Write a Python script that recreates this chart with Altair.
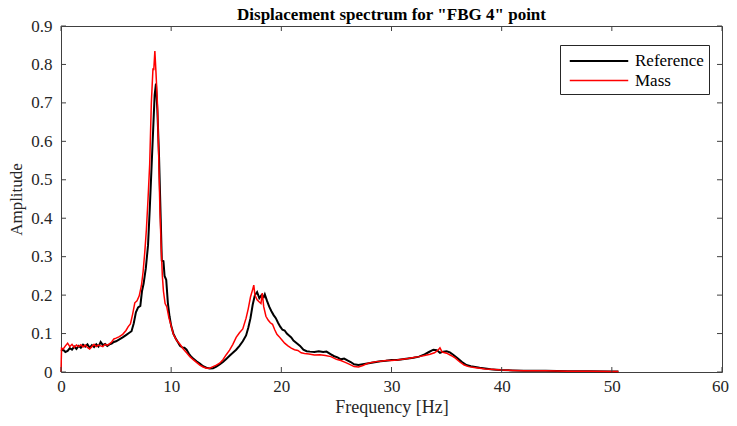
import altair as alt
import pandas as pd

# ---- data ----
ref_freq = [0.0, 0.2, 0.4, 0.6, 0.8, 1.0, 1.2, 1.4, 1.6, 1.8, 2.0, 2.2, 2.4, 2.6, 2.8, 3.0,
            3.2, 3.4, 3.6, 3.8, 4.0, 4.2, 4.4, 4.6, 4.8, 5.0, 5.3, 5.6, 5.9, 6.2, 6.4, 6.6,
            6.8, 7.0, 7.2, 7.35, 7.5, 7.7, 7.9, 8.05, 8.2, 8.35, 8.5, 8.62, 8.75, 8.9, 9.05,
            9.15, 9.3, 9.4, 9.55, 9.7, 9.85, 10.0, 10.2, 10.4, 10.6, 10.8, 11.0, 11.2, 11.4,
            11.6, 11.8, 12.0, 12.3, 12.6, 12.9, 13.2, 13.5, 13.8, 14.1, 14.4, 14.7, 15.0,
            15.3, 15.6, 15.9, 16.2, 16.5, 16.8, 17.0, 17.2, 17.4, 17.6, 17.8, 18.0, 18.2,
            18.4, 18.5, 18.7, 18.9, 19.1, 19.3, 19.5, 19.7, 19.9, 20.1, 20.3, 20.5, 20.7,
            20.9, 21.1, 21.4, 21.7, 22.0, 22.3, 22.6, 23.0, 23.4, 23.8, 24.1, 24.5, 24.8,
            25.1, 25.4, 25.7, 26.0, 26.3, 26.6, 27.0, 27.4, 27.8, 28.2, 28.6, 29.0, 29.5,
            30.0, 30.5, 31.0, 31.5, 32.0, 32.5, 33.0, 33.4, 33.8, 34.1, 34.4, 34.7, 35.0,
            35.3, 35.6, 36.0, 36.4, 36.8, 37.2, 37.6, 38.0, 38.5, 39.0, 39.5, 40.0, 41.0,
            42.0, 44.0, 46.0, 48.0, 50.0, 50.6]
ref_amp = [0.055, 0.058, 0.052, 0.055, 0.062, 0.058, 0.066, 0.060, 0.068, 0.063, 0.071, 0.066,
           0.072, 0.063, 0.070, 0.065, 0.072, 0.066, 0.078, 0.070, 0.073, 0.068, 0.072, 0.074,
           0.078, 0.080, 0.085, 0.090, 0.096, 0.102, 0.106, 0.126, 0.155, 0.168, 0.172, 0.210,
           0.230, 0.270, 0.330, 0.420, 0.520, 0.620, 0.720, 0.750, 0.680, 0.560, 0.400, 0.290,
           0.288, 0.250, 0.240, 0.180, 0.145, 0.120, 0.100, 0.088, 0.078, 0.068, 0.064, 0.063,
           0.058, 0.048, 0.040, 0.035, 0.028, 0.022, 0.015, 0.011, 0.009, 0.010, 0.014, 0.020,
           0.026, 0.034, 0.042, 0.050, 0.058, 0.068, 0.080, 0.095, 0.115, 0.140, 0.175, 0.200,
           0.208, 0.192, 0.200, 0.195, 0.202, 0.185, 0.170, 0.158, 0.148, 0.140, 0.128, 0.118,
           0.110, 0.108, 0.100, 0.095, 0.090, 0.082, 0.075, 0.068, 0.058, 0.054, 0.053, 0.052,
           0.054, 0.052, 0.053, 0.046, 0.041, 0.038, 0.033, 0.035, 0.030, 0.026, 0.020, 0.018,
           0.020, 0.022, 0.024, 0.026, 0.028, 0.029, 0.031, 0.031, 0.033, 0.035, 0.037, 0.040,
           0.046, 0.052, 0.058, 0.057, 0.050, 0.053, 0.054, 0.051, 0.045, 0.036, 0.026, 0.018,
           0.015, 0.013, 0.011, 0.009, 0.007, 0.006, 0.005, 0.004, 0.003, 0.003, 0.002, 0.002,
           0.001, 0.001]

mass_freq = [0.0, 0.05, 0.2, 0.4, 0.6, 0.8, 1.0, 1.2, 1.4, 1.6, 1.8, 2.0, 2.2, 2.4, 2.6, 2.8,
             3.0, 3.2, 3.4, 3.6, 3.8, 4.0, 4.2, 4.4, 4.6, 4.8, 5.0, 5.3, 5.6, 5.9, 6.1, 6.3,
             6.5, 6.7, 6.9, 7.1, 7.3, 7.45, 7.6, 7.75, 7.9, 8.05, 8.2, 8.35, 8.42, 8.52, 8.62,
             8.75, 8.87, 8.98, 9.1, 9.2, 9.3, 9.45, 9.6, 9.8, 10.0, 10.2, 10.5, 10.8, 11.1,
             11.4, 11.7, 12.0, 12.3, 12.6, 12.9, 13.2, 13.5, 13.8, 14.1, 14.4, 14.7, 15.0,
             15.3, 15.6, 15.9, 16.2, 16.5, 16.8, 17.0, 17.2, 17.4, 17.5, 17.6, 17.8, 18.0,
             18.15, 18.27, 18.4, 18.6, 18.8, 19.0, 19.2, 19.4, 19.6, 19.8, 20.0, 20.3, 20.6,
             20.9, 21.2, 21.5, 21.8, 22.1, 22.5, 23.0, 23.5, 24.0, 24.5, 25.0, 25.4, 25.8,
             26.2, 26.6, 27.0, 27.4, 27.8, 28.2, 28.6, 29.0, 29.5, 30.0, 30.5, 31.0, 31.5,
             32.0, 32.5, 33.0, 33.5, 33.9, 34.2, 34.4, 34.6, 35.0, 35.4, 35.8, 36.2, 36.6,
             37.0, 37.5, 38.0, 38.5, 39.0, 40.0, 41.0, 42.0, 44.0, 46.0, 48.0, 50.0, 50.6]
mass_amp = [0.0, 0.062, 0.060, 0.068, 0.075, 0.066, 0.072, 0.064, 0.070, 0.066, 0.071, 0.065,
            0.070, 0.064, 0.060, 0.066, 0.072, 0.066, 0.070, 0.068, 0.066, 0.072, 0.070, 0.073,
            0.078, 0.086, 0.088, 0.092, 0.098, 0.108, 0.118, 0.125, 0.150, 0.180, 0.185, 0.198,
            0.225, 0.260, 0.310, 0.370, 0.450, 0.540, 0.700, 0.790, 0.785, 0.835, 0.780, 0.700,
            0.560, 0.420, 0.320, 0.250, 0.210, 0.178, 0.170, 0.140, 0.120, 0.098, 0.082, 0.072,
            0.060, 0.050, 0.040, 0.032, 0.025, 0.018, 0.013, 0.010, 0.010, 0.014, 0.018, 0.023,
            0.032, 0.045, 0.057, 0.072, 0.090, 0.102, 0.112, 0.140, 0.165, 0.195, 0.215, 0.226,
            0.200, 0.188, 0.182, 0.178, 0.205, 0.170, 0.145, 0.135, 0.128, 0.124, 0.110, 0.098,
            0.092, 0.085, 0.075, 0.068, 0.062, 0.058, 0.056, 0.050, 0.048, 0.047, 0.044, 0.045,
            0.043, 0.040, 0.033, 0.030, 0.025, 0.020, 0.014, 0.013, 0.017, 0.022, 0.025, 0.027,
            0.028, 0.030, 0.030, 0.031, 0.033, 0.035, 0.038, 0.040, 0.043, 0.046, 0.050, 0.056,
            0.063, 0.052, 0.049, 0.043, 0.036, 0.026, 0.018, 0.014, 0.012, 0.010, 0.008, 0.007,
            0.005, 0.004, 0.003, 0.003, 0.002, 0.002, 0.001, 0.001]

series_names = ["Reference", "Mass"]
series_colors = ["#000000", "#ff0000"]
series_widths = [2.0, 1.5]

x_ticks = [0, 10, 20, 30, 40, 50, 60]
y_ticks = [0, 0.1, 0.2, 0.3, 0.4, 0.5, 0.6, 0.7, 0.8, 0.9]

title_text = 'Displacement spectrum for "FBG 4" point'
x_title = "Frequency [Hz]"
y_title = "Amplitude"

# ---- build tables ----
df = pd.concat([
    pd.DataFrame({"f": ref_freq, "a": ref_amp, "series": series_names[0], "ord": range(len(ref_freq))}),
    pd.DataFrame({"f": mass_freq, "a": mass_amp, "series": series_names[1], "ord": range(len(mass_freq))}),
])
xt = pd.DataFrame({"f": x_ticks})
yt = pd.DataFrame({"a": y_ticks})

W, H = 661, 346
FONT = "Liberation Serif"
AXC = "#404040"

xscale = alt.Scale(domain=[0, 60], nice=False, zero=False)
yscale = alt.Scale(domain=[0, 0.9], nice=False, zero=False)

color = alt.Color("series:N", scale=alt.Scale(domain=series_names, range=series_colors), title=None)
swidth = alt.StrokeWidth("series:N", scale=alt.Scale(domain=series_names, range=series_widths), title=None)

x_axis = alt.Axis(values=x_ticks, title=x_title, ticks=False, domain=False, grid=False,
                  labelPadding=6, titlePadding=4, labelFlush=False, labelOverlap=False,
                  titleFontSize=18,
                  labelOffset={"condition": {"test": "datum.value >= 60", "value": -2}, "value": 0})
y_axis = alt.Axis(values=y_ticks, title=y_title, ticks=False, domain=False, grid=False,
                  format="~g", labelPadding=9, titlePadding=5, labelFlush=False,
                  labelOverlap=False, titleFontSize=17)

base = alt.Chart(df)
ref_line = base.transform_filter(alt.datum.series == series_names[0]).mark_line(
    interpolate="linear").encode(x=alt.X("f:Q", scale=xscale, axis=x_axis),
                                 y=alt.Y("a:Q", scale=yscale, axis=y_axis),
                                 color=color, strokeWidth=swidth, order="ord:Q")
mass_line = base.transform_filter(alt.datum.series == series_names[1]).mark_line(
    interpolate="linear").encode(x=alt.X("f:Q", scale=xscale, axis=x_axis),
                                 y=alt.Y("a:Q", scale=yscale, axis=y_axis),
                                 color=color, strokeWidth=swidth, order="ord:Q")

tick_len = 5
bottom_ticks = alt.Chart(xt).mark_rule(color=AXC, strokeWidth=1).encode(
    x=alt.X("f:Q", scale=xscale, axis=x_axis), y=alt.value(H), y2=alt.value(H - tick_len))
top_ticks = alt.Chart(xt).mark_rule(color=AXC, strokeWidth=1).encode(
    x=alt.X("f:Q", scale=xscale, axis=x_axis), y=alt.value(0), y2=alt.value(tick_len))
left_ticks = alt.Chart(yt).mark_rule(color=AXC, strokeWidth=1).encode(
    y=alt.Y("a:Q", scale=yscale, axis=y_axis), x=alt.value(0), x2=alt.value(tick_len))
right_ticks = alt.Chart(yt).mark_rule(color=AXC, strokeWidth=1).encode(
    y=alt.Y("a:Q", scale=yscale, axis=y_axis), x=alt.value(W), x2=alt.value(W - tick_len))

chart = alt.layer(
    ref_line, mass_line, bottom_ticks, top_ticks, left_ticks, right_ticks
).properties(
    width=W, height=H,
    title=alt.TitleParams(title_text, font=FONT, fontSize=17, fontWeight="bold", color="#000000",
                          offset=1, dy=8),
    autosize=alt.AutoSizeParams(type="none"),
    padding={"left": 53, "top": 18, "right": 7, "bottom": 46},
).configure_view(
    stroke=AXC, strokeWidth=1
).configure_axis(
    labelFont=FONT, titleFont=FONT, labelFontSize=17,
    labelColor="#262626", titleColor="#262626", titleFontWeight="normal"
).configure_legend(
    orient="none", legendX=499, legendY=19,
    strokeColor="#262626", fillColor="#ffffff", padding=5,
    labelFont=FONT, labelFontSize=17, labelColor="#000000",
    symbolType="M-3,0H3", symbolSize=380, symbolOffset=23, labelOffset=25,
    rowPadding=1, labelLimit=200
)

chart.save("out.html", embed_options={"renderer": "svg", "actions": False})
